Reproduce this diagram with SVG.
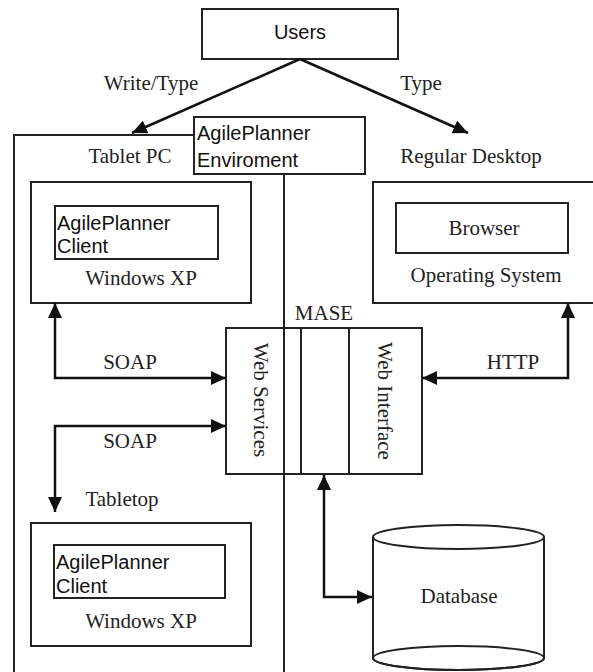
<svg xmlns="http://www.w3.org/2000/svg" width="593" height="672" viewBox="0 0 593 672">
  <defs>
    <style>
      .box { fill: #fff; stroke: #222; stroke-width: 2; }
      .ln { fill: none; stroke: #222; stroke-width: 2; }
      .conn { fill: none; stroke: #111; stroke-width: 2.5; }
      .sans { font-family: "Liberation Sans", Arial, sans-serif; font-size: 20px; fill: #111; }
      .serif { font-family: "Liberation Serif", "Times New Roman", serif; font-size: 21px; fill: #222; text-anchor: middle; }
    </style>
    <marker id="arr" markerUnits="userSpaceOnUse" markerWidth="16" markerHeight="14" refX="15" refY="7" orient="auto-start-reverse">
      <path d="M0,0 L15,7 L0,14 Z" fill="#111"/>
    </marker>
  </defs>
  <rect width="593" height="672" fill="#fff"/>

  <g id="tablet-pc">
    <path class="ln" d="M194,135 H14 V672"/>
    <text class="serif" x="130" y="163">Tablet PC</text>
  </g>

  <g id="environment">
    <line class="ln" x1="284" y1="174" x2="284" y2="672"/>
    <rect class="box" x="194" y="117" width="171" height="57"/>
    <text class="sans" x="197" y="140">AgilePlanner</text>
    <text class="sans" x="197" y="167">Enviroment</text>
  </g>

  <g id="users">
    <rect class="box" x="202" y="9" width="196" height="50"/>
    <text class="sans" x="300" y="39" text-anchor="middle" font-size="17">Users</text>
  </g>

  <g id="windows-xp-tablet">
    <rect class="box" x="31" y="182" width="220" height="121"/>
    <rect class="box" x="55" y="206" width="163" height="53"/>
    <text class="sans" x="57" y="230">AgilePlanner</text>
    <text class="sans" x="57" y="253">Client</text>
    <text class="serif" x="141" y="285">Windows XP</text>
  </g>

  <g id="regular-desktop">
    <text class="serif" x="471" y="163">Regular Desktop</text>
    <path class="ln" d="M594,182 H373 V303 H594"/>
    <rect class="box" x="396" y="203" width="172" height="50"/>
    <text class="serif" x="484" y="235">Browser</text>
    <text class="serif" x="486" y="282">Operating System</text>
  </g>

  <g id="mase">
    <text class="serif" x="324" y="320">MASE</text>
    <rect class="ln" x="226" y="328" width="196" height="146"/>
    <line class="ln" x1="301" y1="328" x2="301" y2="474"/>
    <line class="ln" x1="349" y1="328" x2="349" y2="474"/>
    <line class="ln" x1="284" y1="328" x2="284" y2="474"/>
    <text class="serif" transform="translate(261,400) rotate(90)" dominant-baseline="central">Web Services</text>
    <text class="serif" transform="translate(385,401) rotate(90)" dominant-baseline="central">Web Interface</text>
  </g>

  <g id="tabletop">
    <text class="serif" x="122" y="506">Tabletop</text>
    <rect class="box" x="31" y="523" width="220" height="123"/>
    <rect class="box" x="54" y="545" width="171" height="53"/>
    <text class="sans" x="56" y="569">AgilePlanner</text>
    <text class="sans" x="56" y="593">Client</text>
    <text class="serif" x="141" y="628">Windows XP</text>
  </g>

  <g id="database">
    <path class="box" d="M373,537 V658 A85.5,12 0 0 0 544,658 V537"/>
    <ellipse class="box" cx="458.5" cy="537" rx="85.5" ry="12"/>
    <ellipse class="ln" cx="458.5" cy="658" rx="85.5" ry="12"/>
    <text class="serif" x="459" y="603">Database</text>
  </g>

  <g id="connectors">
    <line class="conn" x1="300" y1="59" x2="132" y2="133" marker-end="url(#arr)"/>
    <line class="conn" x1="300" y1="59" x2="468" y2="133" marker-end="url(#arr)"/>
    <path class="conn" d="M226,378 H55 V303" marker-start="url(#arr)" marker-end="url(#arr)"/>
    <path class="conn" d="M226,426 H55 V512" marker-start="url(#arr)" marker-end="url(#arr)"/>
    <path class="conn" d="M422,378 H568 V303" marker-start="url(#arr)" marker-end="url(#arr)"/>
    <path class="conn" d="M324,475 V597 H372" marker-start="url(#arr)" marker-end="url(#arr)"/>
  </g>

  <g id="labels">
    <text class="serif" x="151" y="90">Write/Type</text>
    <text class="serif" x="421" y="90">Type</text>
    <text class="serif" x="130" y="369">SOAP</text>
    <text class="serif" x="130" y="448">SOAP</text>
    <text class="serif" x="513" y="369">HTTP</text>
  </g>
</svg>
